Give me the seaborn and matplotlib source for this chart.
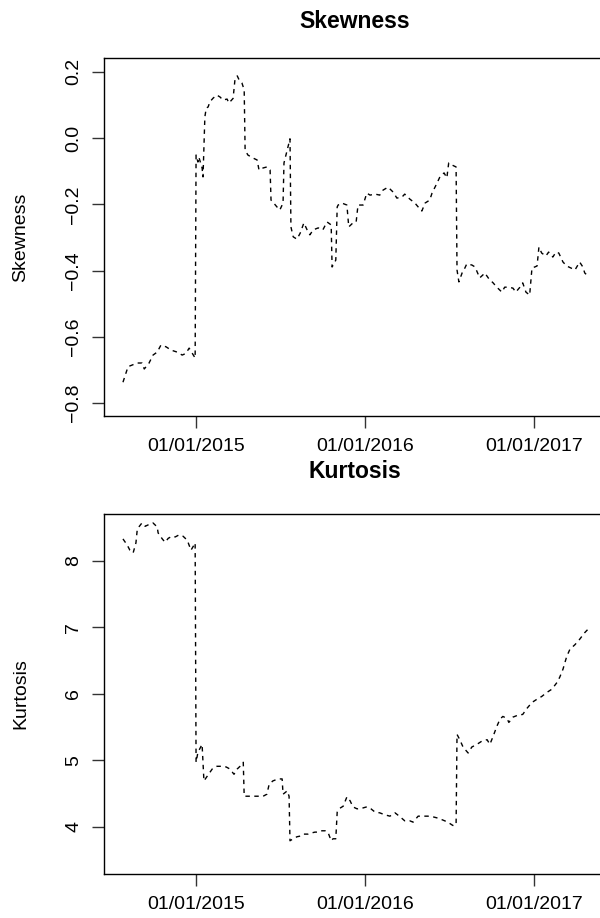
import numpy as np
import pandas as pd
import matplotlib
matplotlib.use("Agg")
import matplotlib.pyplot as plt
import matplotlib.dates as mdates
from matplotlib.ticker import MultipleLocator
import seaborn as sns

# ---- data (days since 01/01/2015) ----
skew_days = [-158, -147, -127, -117, -112, -102, -93, -84, -76, -65, -54, -41, -30, -22, -15, -6, -2,
             0, 4, 6, 13, 15, 19, 22, 26, 30, 37, 45, 52, 58, 67, 71, 80, 84, 89, 93, 99, 104,
             106, 112, 123, 132, 136, 145, 153, 160, 162, 166, 175, 181, 188, 190, 197, 203,
             205, 210, 218, 225, 233, 240, 246, 253, 264, 274, 283, 292, 294, 300, 302, 305,
             307, 315, 326, 330, 339, 346, 350, 361, 369, 376, 387, 397, 404, 415, 426, 434,
             445, 451, 462, 473, 482, 488, 495, 505, 510, 521, 527, 536, 542, 546, 553, 562,
             564, 568, 575, 579, 585, 596, 603, 613, 620, 624, 633, 642, 650, 661, 667, 676,
             685, 691, 700, 706, 713, 721, 726, 732, 737, 741, 747, 756, 762, 771, 778, 784,
             793, 801, 810, 819, 829, 836, 840, 849]
skew_vals = [-0.737, -0.690, -0.679, -0.679, -0.697, -0.680, -0.655, -0.646, -0.625, -0.630, -0.640,
             -0.646, -0.655, -0.650, -0.634, -0.655, -0.664,
             -0.051, -0.072, -0.057, -0.090, -0.117, 0.064, 0.091, 0.094, 0.110, 0.121, 0.130,
             0.124, 0.115, 0.118, 0.106, 0.120, 0.176, 0.188, 0.176, 0.167, 0.146,
             -0.036, -0.051, -0.060, -0.066, -0.096, -0.090, -0.087, -0.096, -0.187, -0.193,
             -0.208, -0.217, -0.196, -0.075, -0.036, -0.002,
             -0.268, -0.298, -0.305, -0.287, -0.256, -0.277, -0.292, -0.277, -0.271, -0.277,
             -0.253, -0.262, -0.389, -0.374, -0.368, -0.208,
             -0.202, -0.196, -0.202, -0.268, -0.256, -0.253, -0.202, -0.202, -0.166, -0.172,
             -0.169, -0.172, -0.157, -0.148, -0.163, -0.181,
             -0.178, -0.169, -0.184, -0.196, -0.211, -0.220, -0.196, -0.187, -0.166, -0.135,
             -0.117, -0.105, -0.120, -0.075, -0.081, -0.087,
             -0.398, -0.434, -0.407, -0.398, -0.380, -0.383, -0.389, -0.422, -0.413, -0.407,
             -0.425, -0.437, -0.450, -0.465, -0.450, -0.450,
             -0.453, -0.465, -0.450, -0.437, -0.465, -0.474, -0.392, -0.389, -0.386, -0.329,
             -0.347, -0.356, -0.344, -0.359, -0.344, -0.347,
             -0.374, -0.386, -0.392, -0.398, -0.374, -0.389, -0.407, -0.419]

kurt_days = [-158, -149, -143, -136, -130, -127, -117, -110, -104, -93, -84, -82, -73, -67, -60, -52,
             -45, -37, -28, -19, -11, -6, -2,
             0, 4, 13, 17, 24, 35, 45, 56, 65, 73, 82, 89, 95, 102,
             104, 112, 123, 136, 145, 153, 158, 166, 177, 186, 188, 197, 201,
             203, 210, 218, 225, 231, 242, 251, 257, 264, 272, 279, 285, 292, 296, 302,
             305, 311, 318, 326, 333, 339, 348, 359, 369, 378, 387, 397, 408, 419, 430, 441,
             451, 462, 469, 480, 490, 501, 512, 523, 534, 544, 555, 562,
             564, 570, 577, 588, 596, 607, 618, 629, 635, 642, 650, 657, 663, 672, 676, 685,
             696, 706, 715, 726, 737, 747, 758, 769, 780, 786, 793, 801, 808, 819, 829, 840, 851]
kurt_vals = [8.33, 8.24, 8.16, 8.12, 8.27, 8.48, 8.57, 8.52, 8.54, 8.57, 8.51, 8.42, 8.33, 8.28, 8.34,
             8.37, 8.36, 8.39, 8.37, 8.31, 8.16, 8.22, 8.27,
             4.97, 5.12, 5.24, 4.69, 4.76, 4.87, 4.91, 4.91, 4.90, 4.87, 4.79, 4.87, 4.91, 4.97,
             4.46, 4.46, 4.46, 4.46, 4.46, 4.49, 4.64, 4.69, 4.72, 4.72, 4.49, 4.54, 4.46,
             3.79, 3.82, 3.85, 3.86, 3.89, 3.89, 3.91, 3.92, 3.92, 3.94, 3.94, 3.92, 3.79, 3.82, 3.82,
             4.22, 4.28, 4.31, 4.45, 4.39, 4.30, 4.27, 4.28, 4.30, 4.27, 4.22, 4.21, 4.18, 4.16, 4.21, 4.15,
             4.09, 4.09, 4.07, 4.16, 4.16, 4.16, 4.15, 4.13, 4.10, 4.07, 4.02, 4.03,
             5.39, 5.31, 5.20, 5.11, 5.20, 5.24, 5.29, 5.31, 5.24, 5.36, 5.51, 5.62, 5.66, 5.63, 5.57, 5.65,
             5.68, 5.69, 5.78, 5.87, 5.92, 5.96, 6.02, 6.07, 6.17, 6.25, 6.37, 6.56, 6.67, 6.74, 6.82,
             6.92, 7.00]

titles = ["Skewness", "Kurtosis"]
x_ticks = ["2015-01-01", "2016-01-01", "2017-01-01"]

# ---- style ----
sns.set_theme(style="white")
plt.rcParams["font.family"] = ["Liberation Sans", "DejaVu Sans"]
plt.rcParams["axes.edgecolor"] = "black"
plt.rcParams["axes.linewidth"] = 1.0
plt.rcParams["text.color"] = "black"
plt.rcParams["xtick.color"] = "black"
plt.rcParams["ytick.color"] = "black"
plt.rcParams["xtick.labelcolor"] = "black"
plt.rcParams["ytick.labelcolor"] = "black"

origin = pd.Timestamp("2015-01-01")
skew_df = pd.DataFrame({"date": origin + pd.to_timedelta(skew_days, unit="D"), "value": skew_vals})
kurt_df = pd.DataFrame({"date": origin + pd.to_timedelta(kurt_days, unit="D"), "value": kurt_vals})

fig = plt.figure(figsize=(6.0, 9.18), dpi=100)
ax1 = fig.add_axes([0.17333, 0.54684, 0.83667, 0.38998])
ax2 = fig.add_axes([0.17333, 0.04793, 0.83667, 0.39216])

xmin = origin + pd.Timedelta(days=-199)
xmax = origin + pd.Timedelta(days=886)

for ax, df, ylim, ystep in [(ax1, skew_df, (-0.839, 0.242), 0.2),
                            (ax2, kurt_df, (3.29, 8.705), 1.0)]:
    sns.lineplot(data=df, x="date", y="value", ax=ax, color="black",
                 linewidth=1.0, estimator=None, legend=False)
    ax.lines[0].set_dashes((3.2, 3.2))
    ax.set_xlim(xmin, xmax)
    ax.set_ylim(*ylim)
    ax.set_xticks(pd.to_datetime(x_ticks))
    ax.xaxis.set_major_formatter(mdates.DateFormatter("%d/%m/%Y"))
    ax.yaxis.set_major_locator(MultipleLocator(ystep))
    ax.tick_params(axis="both", which="major", direction="out", length=8.5, width=1.0,
                   color="#333333", labelcolor="black", labelsize=14, pad=7,
                   bottom=True, left=True)
    ax.tick_params(axis="y", labelrotation=90)
    for lab in ax.get_yticklabels():
        lab.set_va("center")
    ax.set_xlabel("")
    ax.set_ylabel("")
    for s in ax.spines.values():
        s.set_visible(True)
        s.set_color("black")

fig.text(21 / 600, 1 - 237 / 918, "Skewness", rotation=90, ha="center", va="center",
         fontsize=14, color="black")
fig.text(21 / 600, 1 - 694 / 918, "Kurtosis", rotation=90, ha="center", va="center",
         fontsize=14, color="black")
fig.text(355 / 600, 1 - 22 / 918, titles[0], ha="center", va="center", fontsize=16.5,
         fontweight="bold", color="black")
fig.text(355 / 600, 1 - 472 / 918, titles[1], ha="center", va="center", fontsize=16.5,
         fontweight="bold", color="black")

fig.savefig("out.png", dpi=100, facecolor="white")
